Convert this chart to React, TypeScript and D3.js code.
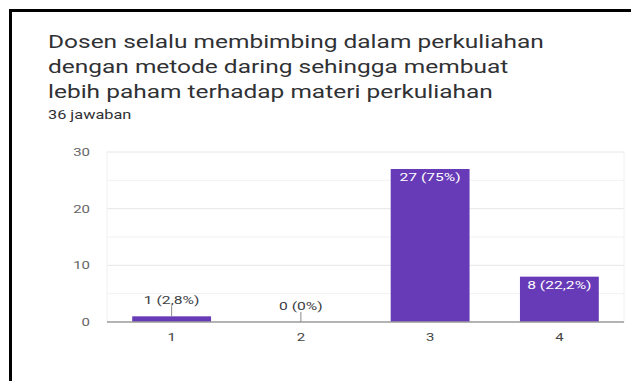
import * as d3 from "d3";
import { useEffect, useRef } from "react";

const titleLines = [
  "Dosen selalu membimbing dalam perkuliahan",
  "dengan metode daring sehingga membuat",
  "lebih paham terhadap materi perkuliahan",
];
const responseText = "36 jawaban";
const categories = ["1", "2", "3", "4"];
const counts = [1, 0, 27, 8];
const yTicks = [0, 10, 20, 30];
const gridTicks = [5, 10, 15, 20, 25, 30];

export default function App() {
  const ref = useRef<SVGSVGElement>(null);

  useEffect(() => {
    const width = 631;
    const height = 381;
    const margin = { top: 152, right: 7, bottom: 59, left: 107 };
    const font = "Roboto, 'Noto Sans', sans-serif";
    const sx = 1.36; // screenshot looks stretched sideways
    const total = d3.sum(counts);

    const svg = d3.select(ref.current);
    svg.selectAll("*").remove();
    svg.attr("width", width).attr("height", height);

    svg.append("rect").attr("width", width).attr("height", height).attr("fill", "#fff");

    // black frame, top + left only
    svg.append("line")
      .attr("x1", 9).attr("x2", width).attr("y1", 10.5).attr("y2", 10.5)
      .attr("stroke", "#000").attr("stroke-width", 3);
    svg.append("line")
      .attr("x1", 10.5).attr("x2", 10.5).attr("y1", 9).attr("y2", height)
      .attr("stroke", "#000").attr("stroke-width", 3);

    // stretched text helper
    const label = (x: number, y: number, txt: string, size: number, color: string, anchor = "start") =>
      svg.append("text")
        .attr("transform", `translate(${x},${y}) scale(${sx},1)`)
        .attr("text-anchor", anchor)
        .attr("font-family", font)
        .attr("font-size", size)
        .attr("fill", color)
        .text(txt);

    titleLines.forEach((t, i) => label(48, 48 + i * 25, t, 18, "#303134"));
    label(48, 119, responseText, 12, "#303134");

    // scales
    const x = d3.scaleBand()
      .domain(categories)
      .range([margin.left, width - margin.right])
      .paddingInner(0.39)
      .paddingOuter(0.195);

    const y = d3.scaleLinear()
      .domain([0, 30])
      .range([height - margin.bottom, margin.top]);

    // grid
    svg.append("g")
      .selectAll("line")
      .data(gridTicks)
      .join("line")
      .attr("x1", margin.left).attr("x2", width - margin.right)
      .attr("y1", d => y(d)).attr("y2", d => y(d))
      .attr("stroke", d => (d % 10 === 0 ? "#e6e6e6" : "#f1f1f1"))
      .attr("stroke-width", 1);

    [margin.left, width - margin.right].forEach(px =>
      svg.append("line")
        .attr("x1", px).attr("x2", px).attr("y1", y(30)).attr("y2", y(0))
        .attr("stroke", "#f0f0f0"));

    // y tick labels
    yTicks.forEach(t => label(90, y(t) + 4, String(t), 11, "#666", "end"));

    // bars
    svg.append("g")
      .selectAll("rect")
      .data(counts)
      .join("rect")
      .attr("x", (d, i) => x(categories[i])!)
      .attr("y", d => y(d))
      .attr("width", x.bandwidth())
      .attr("height", d => y(0) - y(d))
      .attr("fill", "#673ab7");

    // baseline
    svg.append("line")
      .attr("x1", margin.left).attr("x2", width - margin.right)
      .attr("y1", y(0)).attr("y2", y(0))
      .attr("stroke", "#9a9a9a").attr("stroke-width", 1.5);

    // x labels
    categories.forEach(c => label(x(c)! + x.bandwidth() / 2, 341, c, 11, "#444", "middle"));

    // value labels
    counts.forEach((v, i) => {
      const pct = d3.format(".1f")((v / total) * 100).replace(/\.0$/, "").replace(".", ",");
      const txt = `${v} (${pct}%)`;
      const cx = x(categories[i])! + x.bandwidth() / 2;
      const top = y(v);
      if (y(0) - top > 16) {
        label(cx, top + 12, txt, 11.5, "#fff", "middle");
      } else {
        svg.append("line")
          .attr("x1", cx).attr("x2", cx).attr("y1", top).attr("y2", top - 10)
          .attr("stroke", "#888").attr("stroke-width", 1);
        label(cx, top - 12, txt, 11.5, "#3c4043", "middle");
      }
    });
  }, []);

  return (
    <svg ref={ref} style={{ position: "absolute", left: 0, top: 0, display: "block" }} />
  );
}
